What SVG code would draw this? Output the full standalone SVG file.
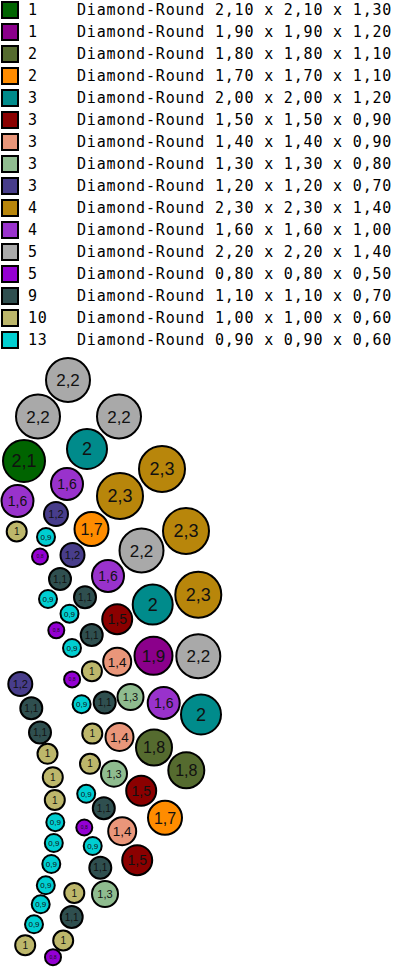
<svg xmlns="http://www.w3.org/2000/svg" width="397" height="968" viewBox="0 0 397 968">
<style>
.bg{fill:#fff}
.sw{stroke:#000;stroke-width:2}
.lt{font-family:"DejaVu Sans Mono","Liberation Mono",monospace;font-size:15px;letter-spacing:0.82px;fill:#000}
.c{stroke:#000;stroke-width:2}
.t{font-family:"Liberation Sans",Arial,sans-serif;text-anchor:middle;fill:#111}
.c1{fill:#006400}.c2{fill:#8B008B}.c3{fill:#556B2F}.c4{fill:#FF8C00}
.c5{fill:#008B8B}.c6{fill:#8B0000}.c7{fill:#E9967A}.c8{fill:#8FBC8F}
.c9{fill:#483D8B}.c10{fill:#B8860B}.c11{fill:#9932CC}.c12{fill:#A9A9A9}
.c13{fill:#9400D3}.c14{fill:#2F4F4F}.c15{fill:#BDB76B}.c16{fill:#00CED1}
.f23{font-size:18px}.f22{font-size:17px}.f21{font-size:18px}.f20{font-size:18px}
.f19{font-size:17px}.f18{font-size:16px}.f17{font-size:16px}.f16{font-size:14px}
.f15{font-size:14px}.f14{font-size:13.5px}.f13{font-size:11px}.f12{font-size:11px}
.f11{font-size:10px}.f10{font-size:10px}.f09{font-size:8px}.f08{font-size:5px}
</style>
<rect class="bg" x="0" y="0" width="397" height="968"/>
<g id="legend">
<g id="leg1"><rect class="sw c1" x="2" y="2" width="16" height="16"/><text class="lt" x="28" y="15">1</text><text class="lt" x="77" y="15">Diamond-Round 2,10 x 2,10 x 1,30</text></g>
<g id="leg2"><rect class="sw c2" x="2" y="24" width="16" height="16"/><text class="lt" x="28" y="37">1</text><text class="lt" x="77" y="37">Diamond-Round 1,90 x 1,90 x 1,20</text></g>
<g id="leg3"><rect class="sw c3" x="2" y="46" width="16" height="16"/><text class="lt" x="28" y="59">2</text><text class="lt" x="77" y="59">Diamond-Round 1,80 x 1,80 x 1,10</text></g>
<g id="leg4"><rect class="sw c4" x="2" y="68" width="16" height="16"/><text class="lt" x="28" y="81">2</text><text class="lt" x="77" y="81">Diamond-Round 1,70 x 1,70 x 1,10</text></g>
<g id="leg5"><rect class="sw c5" x="2" y="90" width="16" height="16"/><text class="lt" x="28" y="103">3</text><text class="lt" x="77" y="103">Diamond-Round 2,00 x 2,00 x 1,20</text></g>
<g id="leg6"><rect class="sw c6" x="2" y="112" width="16" height="16"/><text class="lt" x="28" y="125">3</text><text class="lt" x="77" y="125">Diamond-Round 1,50 x 1,50 x 0,90</text></g>
<g id="leg7"><rect class="sw c7" x="2" y="134" width="16" height="16"/><text class="lt" x="28" y="147">3</text><text class="lt" x="77" y="147">Diamond-Round 1,40 x 1,40 x 0,90</text></g>
<g id="leg8"><rect class="sw c8" x="2" y="156" width="16" height="16"/><text class="lt" x="28" y="169">3</text><text class="lt" x="77" y="169">Diamond-Round 1,30 x 1,30 x 0,80</text></g>
<g id="leg9"><rect class="sw c9" x="2" y="178" width="16" height="16"/><text class="lt" x="28" y="191">3</text><text class="lt" x="77" y="191">Diamond-Round 1,20 x 1,20 x 0,70</text></g>
<g id="leg10"><rect class="sw c10" x="2" y="200" width="16" height="16"/><text class="lt" x="28" y="213">4</text><text class="lt" x="77" y="213">Diamond-Round 2,30 x 2,30 x 1,40</text></g>
<g id="leg11"><rect class="sw c11" x="2" y="222" width="16" height="16"/><text class="lt" x="28" y="235">4</text><text class="lt" x="77" y="235">Diamond-Round 1,60 x 1,60 x 1,00</text></g>
<g id="leg12"><rect class="sw c12" x="2" y="244" width="16" height="16"/><text class="lt" x="28" y="257">5</text><text class="lt" x="77" y="257">Diamond-Round 2,20 x 2,20 x 1,40</text></g>
<g id="leg13"><rect class="sw c13" x="2" y="266" width="16" height="16"/><text class="lt" x="28" y="279">5</text><text class="lt" x="77" y="279">Diamond-Round 0,80 x 0,80 x 0,50</text></g>
<g id="leg14"><rect class="sw c14" x="2" y="288" width="16" height="16"/><text class="lt" x="28" y="301">9</text><text class="lt" x="77" y="301">Diamond-Round 1,10 x 1,10 x 0,70</text></g>
<g id="leg15"><rect class="sw c15" x="2" y="310" width="16" height="16"/><text class="lt" x="28" y="323">10</text><text class="lt" x="77" y="323">Diamond-Round 1,00 x 1,00 x 0,60</text></g>
<g id="leg16"><rect class="sw c16" x="2" y="332" width="16" height="16"/><text class="lt" x="28" y="345">13</text><text class="lt" x="77" y="345">Diamond-Round 0,90 x 0,90 x 0,60</text></g>
</g>
<g id="stones">
<g id="s1"><circle class="c c12" cx="68" cy="380" r="22"/><text class="t f22" x="68" y="386.1">2,2</text></g>
<g id="s2"><circle class="c c12" cx="38" cy="416.5" r="22"/><text class="t f22" x="38" y="422.6">2,2</text></g>
<g id="s3"><circle class="c c12" cx="119" cy="416.5" r="22"/><text class="t f22" x="119" y="422.6">2,2</text></g>
<g id="s4"><circle class="c c1" cx="24" cy="461" r="21"/><text class="t f21" x="24" y="467.4">2,1</text></g>
<g id="s5"><circle class="c c5" cx="87" cy="449" r="20"/><text class="t f20" x="87" y="455.4">2</text></g>
<g id="s6"><circle class="c c10" cx="162" cy="469" r="23"/><text class="t f23" x="162" y="475.4">2,3</text></g>
<g id="s7"><circle class="c c10" cx="120" cy="496" r="23"/><text class="t f23" x="120" y="502.4">2,3</text></g>
<g id="s8"><circle class="c c11" cx="67" cy="484" r="16"/><text class="t f16" x="67" y="489">1,6</text></g>
<g id="s9"><circle class="c c11" cx="17.5" cy="501" r="16"/><text class="t f16" x="17.5" y="506">1,6</text></g>
<g id="s10"><circle class="c c9" cx="56" cy="514" r="12"/><text class="t f12" x="56" y="517.9">1,2</text></g>
<g id="s11"><circle class="c c15" cx="16.7" cy="531.5" r="10"/><text class="t f10" x="16.7" y="535.1">1</text></g>
<g id="s12"><circle class="c c16" cx="46" cy="537" r="9"/><text class="t f09" x="46" y="539.9">0,9</text></g>
<g id="s13"><circle class="c c4" cx="91.5" cy="529" r="17"/><text class="t f17" x="91.5" y="534.7">1,7</text></g>
<g id="s14"><circle class="c c10" cx="186" cy="531" r="23"/><text class="t f23" x="186" y="537.4">2,3</text></g>
<g id="s15"><circle class="c c12" cx="141.5" cy="550.5" r="22"/><text class="t f22" x="141.5" y="556.6">2,2</text></g>
<g id="s16"><circle class="c c13" cx="40" cy="556.5" r="8"/><text class="t f08" x="40" y="558.3">0,8</text></g>
<g id="s17"><circle class="c c9" cx="72.5" cy="555" r="12"/><text class="t f12" x="72.5" y="558.9">1,2</text></g>
<g id="s18"><circle class="c c11" cx="108" cy="576" r="16"/><text class="t f16" x="108" y="581">1,6</text></g>
<g id="s19"><circle class="c c14" cx="60" cy="579" r="11"/><text class="t f11" x="60" y="582.6">1,1</text></g>
<g id="s20"><circle class="c c10" cx="198.3" cy="594.7" r="23"/><text class="t f23" x="198.3" y="601.1">2,3</text></g>
<g id="s21"><circle class="c c5" cx="152.7" cy="604.6" r="20"/><text class="t f20" x="152.7" y="611">2</text></g>
<g id="s22"><circle class="c c16" cx="48" cy="599" r="9"/><text class="t f09" x="48" y="601.9">0,9</text></g>
<g id="s23"><circle class="c c14" cx="85" cy="597.3" r="11"/><text class="t f11" x="85" y="600.9">1,1</text></g>
<g id="s24"><circle class="c c16" cx="69.5" cy="613.7" r="9"/><text class="t f09" x="69.5" y="616.6">0,9</text></g>
<g id="s25"><circle class="c c6" cx="117.2" cy="619.2" r="15"/><text class="t f15" x="117.2" y="624.2">1,5</text></g>
<g id="s26"><circle class="c c13" cx="56.3" cy="630.3" r="8"/><text class="t f08" x="56.3" y="632.1">0,8</text></g>
<g id="s27"><circle class="c c14" cx="91.7" cy="635" r="11"/><text class="t f11" x="91.7" y="638.6">1,1</text></g>
<g id="s28"><circle class="c c16" cx="72" cy="648" r="9"/><text class="t f09" x="72" y="650.9">0,9</text></g>
<g id="s29"><circle class="c c2" cx="153.5" cy="655.8" r="19"/><text class="t f19" x="153.5" y="661.9">1,9</text></g>
<g id="s30"><circle class="c c12" cx="198.3" cy="656.2" r="22"/><text class="t f22" x="198.3" y="662.3">2,2</text></g>
<g id="s31"><circle class="c c7" cx="117.2" cy="661.7" r="14"/><text class="t f14" x="117.2" y="666.5">1,4</text></g>
<g id="s32"><circle class="c c15" cx="91.9" cy="671.2" r="10"/><text class="t f10" x="91.9" y="674.8">1</text></g>
<g id="s33"><circle class="c c13" cx="72.1" cy="679.4" r="8"/><text class="t f08" x="72.1" y="681.2">0,8</text></g>
<g id="s34"><circle class="c c9" cx="20.3" cy="684" r="12"/><text class="t f12" x="20.3" y="687.9">1,2</text></g>
<g id="s35"><circle class="c c16" cx="81.6" cy="704.2" r="9"/><text class="t f09" x="81.6" y="707.1">0,9</text></g>
<g id="s36"><circle class="c c14" cx="104.7" cy="702.5" r="11"/><text class="t f11" x="104.7" y="706.1">1,1</text></g>
<g id="s37"><circle class="c c8" cx="130.5" cy="697" r="13"/><text class="t f13" x="130.5" y="700.9">1,3</text></g>
<g id="s38"><circle class="c c11" cx="163.7" cy="703" r="16"/><text class="t f16" x="163.7" y="708">1,6</text></g>
<g id="s39"><circle class="c c5" cx="201" cy="714.5" r="20"/><text class="t f20" x="201" y="720.9">2</text></g>
<g id="s40"><circle class="c c14" cx="31.3" cy="708.3" r="11"/><text class="t f11" x="31.3" y="711.9">1,1</text></g>
<g id="s41"><circle class="c c14" cx="40" cy="732.5" r="11"/><text class="t f11" x="40" y="736.1">1,1</text></g>
<g id="s42"><circle class="c c15" cx="92.3" cy="733.6" r="10"/><text class="t f10" x="92.3" y="737.2">1</text></g>
<g id="s43"><circle class="c c7" cx="119.5" cy="737" r="14"/><text class="t f14" x="119.5" y="741.8">1,4</text></g>
<g id="s44"><circle class="c c3" cx="154" cy="747.5" r="18"/><text class="t f18" x="154" y="753.2">1,8</text></g>
<g id="s45"><circle class="c c3" cx="186.3" cy="770.3" r="18"/><text class="t f18" x="186.3" y="776">1,8</text></g>
<g id="s46"><circle class="c c15" cx="47.5" cy="753.8" r="10"/><text class="t f10" x="47.5" y="757.4">1</text></g>
<g id="s47"><circle class="c c15" cx="90" cy="763.8" r="10"/><text class="t f10" x="90" y="767.4">1</text></g>
<g id="s48"><circle class="c c8" cx="114" cy="773.7" r="13"/><text class="t f13" x="114" y="777.6">1,3</text></g>
<g id="s49"><circle class="c c15" cx="52.8" cy="777.2" r="10"/><text class="t f10" x="52.8" y="780.8">1</text></g>
<g id="s50"><circle class="c c6" cx="141.2" cy="790.8" r="15"/><text class="t f15" x="141.2" y="795.8">1,5</text></g>
<g id="s51"><circle class="c c16" cx="86.2" cy="793.8" r="9"/><text class="t f09" x="86.2" y="796.7">0,9</text></g>
<g id="s52"><circle class="c c15" cx="54.8" cy="800" r="10"/><text class="t f10" x="54.8" y="803.6">1</text></g>
<g id="s53"><circle class="c c14" cx="103.8" cy="808.3" r="11"/><text class="t f11" x="103.8" y="811.9">1,1</text></g>
<g id="s54"><circle class="c c4" cx="165" cy="817.8" r="17"/><text class="t f17" x="165" y="823.5">1,7</text></g>
<g id="s55"><circle class="c c16" cx="55.3" cy="822.2" r="9"/><text class="t f09" x="55.3" y="825.1">0,9</text></g>
<g id="s56"><circle class="c c13" cx="84.3" cy="827.5" r="8"/><text class="t f08" x="84.3" y="829.3">0,8</text></g>
<g id="s57"><circle class="c c7" cx="122.2" cy="831.2" r="14"/><text class="t f14" x="122.2" y="836">1,4</text></g>
<g id="s58"><circle class="c c16" cx="53.8" cy="843" r="9"/><text class="t f09" x="53.8" y="845.9">0,9</text></g>
<g id="s59"><circle class="c c16" cx="92.7" cy="846" r="9"/><text class="t f09" x="92.7" y="848.9">0,9</text></g>
<g id="s60"><circle class="c c6" cx="137.2" cy="860.2" r="15"/><text class="t f15" x="137.2" y="865.2">1,5</text></g>
<g id="s61"><circle class="c c16" cx="51.3" cy="864" r="9"/><text class="t f09" x="51.3" y="866.9">0,9</text></g>
<g id="s62"><circle class="c c14" cx="100.3" cy="867.8" r="11"/><text class="t f11" x="100.3" y="871.4">1,1</text></g>
<g id="s63"><circle class="c c16" cx="45.8" cy="885.3" r="9"/><text class="t f09" x="45.8" y="888.2">0,9</text></g>
<g id="s64"><circle class="c c15" cx="74.3" cy="893" r="10"/><text class="t f10" x="74.3" y="896.6">1</text></g>
<g id="s65"><circle class="c c8" cx="105" cy="894" r="13"/><text class="t f13" x="105" y="897.9">1,3</text></g>
<g id="s66"><circle class="c c16" cx="40.7" cy="904.3" r="9"/><text class="t f09" x="40.7" y="907.2">0,9</text></g>
<g id="s67"><circle class="c c14" cx="71.7" cy="917" r="11"/><text class="t f11" x="71.7" y="920.6">1,1</text></g>
<g id="s68"><circle class="c c16" cx="34" cy="924.3" r="9"/><text class="t f09" x="34" y="927.2">0,9</text></g>
<g id="s69"><circle class="c c15" cx="63.2" cy="940.5" r="10"/><text class="t f10" x="63.2" y="944.1">1</text></g>
<g id="s70"><circle class="c c15" cx="25.2" cy="945.2" r="10"/><text class="t f10" x="25.2" y="948.8">1</text></g>
<g id="s71"><circle class="c c13" cx="53" cy="957.2" r="8"/><text class="t f08" x="53" y="959">0,8</text></g>
</g>
</svg>
